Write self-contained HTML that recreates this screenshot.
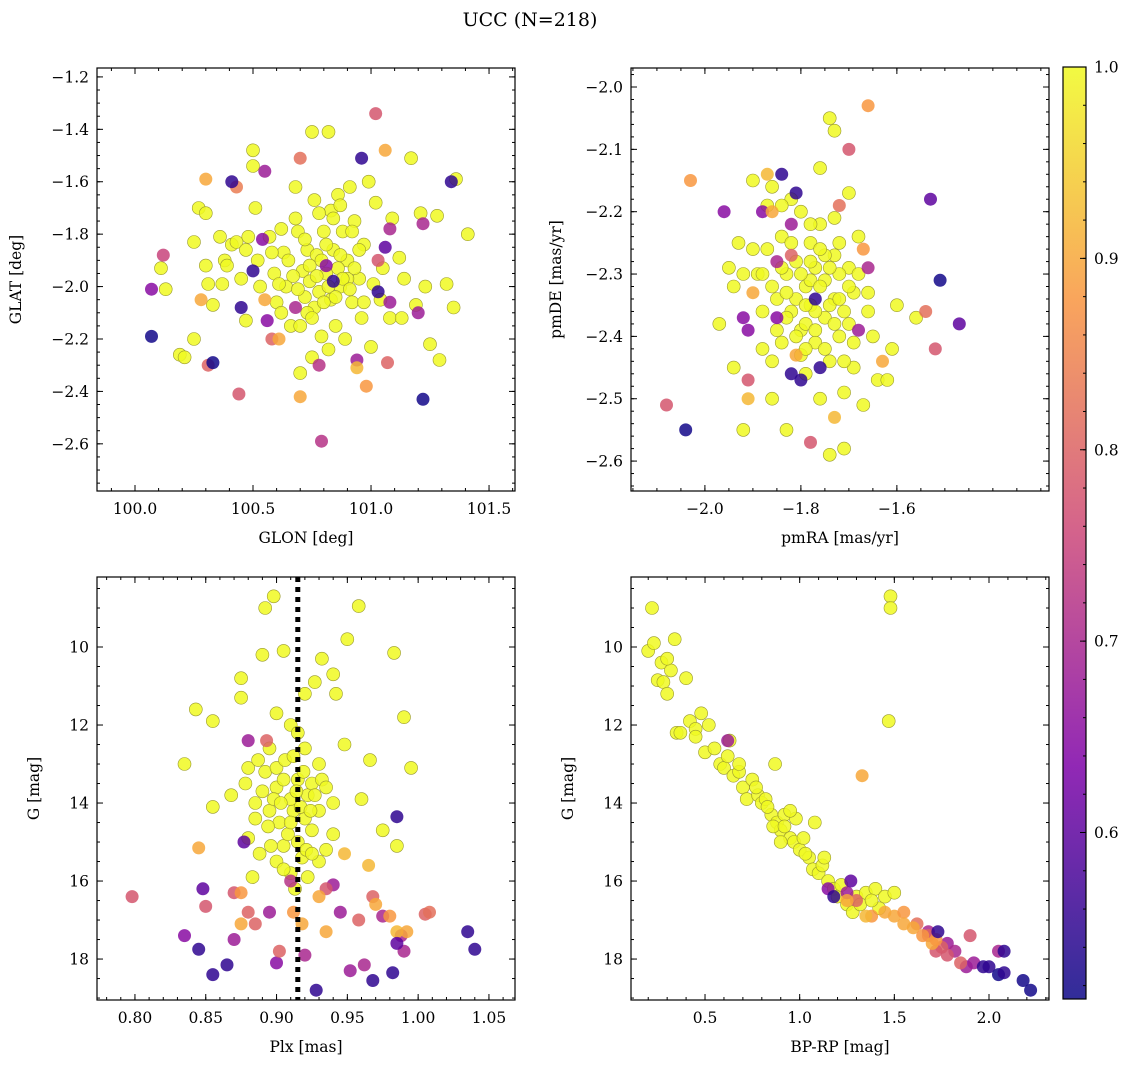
<!DOCTYPE html>
<html><head><meta charset="utf-8"><style>
html,body{margin:0;padding:0;background:#fff}
svg{display:block}
text{font-family:"DejaVu Serif","Liberation Serif",serif;fill:#000}
</style></head><body>
<svg id="fig" width="1136" height="1067" viewBox="0 0 1136 1067" xmlns="http://www.w3.org/2000/svg">
<defs><linearGradient id="plasma" x1="0" y1="1" x2="0" y2="0">
<stop offset="0" stop-color="#0d0887"/><stop offset="0.25" stop-color="#7e03a8"/><stop offset="0.5" stop-color="#cc4778"/><stop offset="0.75" stop-color="#f89540"/><stop offset="1" stop-color="#f0f921"/></linearGradient></defs>
<text x="530" y="26" font-size="19" text-anchor="middle">UCC (N=218)</text>
</svg>
<script>
// ---- data (x, y, membership probability) ----
const p1Dark=[[100.07,-2.19,0.52],[100.33,-2.29,0.52],[100.41,-1.60,0.55],[100.50,-1.94,0.55],[100.45,-2.08,0.55],[101.22,-2.43,0.52],[101.34,-1.60,0.55],[100.96,-1.51,0.55],[101.03,-2.02,0.55],[100.84,-1.98,0.55],[101.06,-1.85,0.6]];
const p1Mid=[[100.07,-2.01,0.65],[100.55,-1.56,0.68],[100.56,-2.13,0.65],[100.54,-1.82,0.65],[100.81,-1.92,0.65],[101.08,-2.06,0.68],[101.2,-2.1,0.68],[100.94,-2.28,0.68],[101.22,-1.76,0.7],[101.08,-1.78,0.7],[100.78,-2.3,0.72],[100.79,-2.59,0.72],[100.68,-2.08,0.7],
[101.02,-1.34,0.78],[100.12,-1.88,0.75],[100.44,-2.41,0.78],[100.31,-2.30,0.8],[101.07,-2.29,0.8],[101.03,-1.9,0.78],[100.70,-1.51,0.82],[100.58,-2.20,0.8],[100.43,-1.62,0.84],[100.98,-2.38,0.88],
[100.30,-1.59,0.9],[100.70,-2.42,0.9],[100.94,-2.31,0.92],[101.06,-1.48,0.9],[100.55,-2.05,0.9],[100.28,-2.05,0.9],[100.61,-2.2,0.9]];
const p1Core=[[100.11,-1.93],[100.13,-2.01],[100.19,-2.26],[100.21,-2.27],[100.25,-1.83],[100.25,-2.2],[100.27,-1.7],[100.30,-1.72],[100.30,-1.92],[100.31,-1.99],[100.33,-2.07],[100.36,-1.81],[100.37,-1.99],[100.38,-1.9],[100.39,-1.92],[100.41,-1.84],[100.43,-1.83],[100.45,-1.97],[100.47,-2.13],[100.48,-1.81],[100.50,-1.48],[100.50,-1.54],[100.51,-1.7],[100.52,-1.9],[100.53,-2.0],[100.57,-1.81],[100.59,-1.95],[100.60,-2.06],[100.62,-2.1],[100.63,-1.87],[100.65,-1.9],[100.66,-2.15],[100.68,-1.62],[100.68,-1.74],[100.69,-1.79],[100.70,-2.33],[100.71,-1.94],[100.72,-2.04],[100.73,-1.86],[100.74,-1.98],[100.75,-1.41],[100.75,-2.27],[100.76,-1.67],[100.77,-1.88],[100.78,-2.02],[100.79,-2.19],[100.80,-1.79],[100.81,-1.95],[100.82,-1.41],[100.83,-1.71],[100.83,-2.05],[100.84,-1.86],[100.85,-2.15],[100.86,-1.65],[100.87,-2.0],[100.88,-1.79],[100.89,-2.2],[100.90,-1.9],[100.91,-1.62],[100.92,-2.06],[100.93,-1.75],[100.95,-1.97],[100.96,-2.12],[100.97,-1.84],[100.99,-1.6],[101.0,-2.23],[101.02,-1.68],[101.04,-2.05],[101.05,-1.93],[101.08,-2.12],[101.09,-1.74],[101.12,-1.89],[101.14,-1.97],[101.17,-1.51],[101.19,-2.07],[101.21,-1.72],[101.23,-2.0],[101.25,-2.22],[101.28,-1.73],[101.29,-2.28],[101.32,-1.99],[101.35,-2.08],[101.36,-1.59],[101.41,-1.80],[101.13,-2.12],[100.64,-2.0],[100.76,-2.08],[100.86,-1.93],[100.7,-2.15],[100.9,-1.97],
[100.72,-1.82],[100.74,-1.92],[100.77,-1.96],[100.79,-1.9],[100.8,-2.06],[100.82,-2.0],[100.85,-2.04],[100.87,-1.88],[100.88,-1.97],[100.91,-2.01],[100.93,-1.93],[100.67,-1.96],[100.69,-2.01],[100.73,-2.1],[100.81,-1.84],[100.84,-1.74],[100.87,-1.69],[100.78,-1.72],[100.62,-1.78],[100.95,-1.86],[100.58,-1.87],[100.97,-2.06],[100.75,-2.12],[100.92,-1.79],[100.61,-1.99],[101.01,-1.99],[100.47,-1.86],[100.82,-2.24]];

const p2Dark=[[-2.04,-2.55,0.52],[-1.51,-2.31,0.52],[-1.47,-2.38,0.6],[-1.53,-2.18,0.6],[-1.84,-2.14,0.55],[-1.81,-2.17,0.55],[-1.80,-2.47,0.55],[-1.77,-2.34,0.55],[-1.76,-2.45,0.55],[-1.82,-2.46,0.55]];
const p2Mid=[[-1.96,-2.20,0.65],[-1.92,-2.37,0.65],[-1.91,-2.39,0.65],[-1.88,-2.2,0.65],[-1.85,-2.37,0.65],[-1.82,-2.22,0.68],[-1.68,-2.39,0.68],[-1.66,-2.29,0.7],[-1.85,-2.28,0.7],
[-2.08,-2.51,0.78],[-1.78,-2.57,0.78],[-1.91,-2.47,0.78],[-1.82,-2.27,0.8],[-1.70,-2.1,0.78],[-1.52,-2.42,0.78],[-1.54,-2.36,0.82],[-1.72,-2.19,0.82],
[-2.03,-2.15,0.88],[-1.90,-2.33,0.9],[-1.91,-2.50,0.92],[-1.87,-2.14,0.92],[-1.66,-2.03,0.88],[-1.67,-2.26,0.88],[-1.73,-2.53,0.92],[-1.63,-2.44,0.9],[-1.86,-2.2,0.9],[-1.81,-2.43,0.9]];
const p2Core=[[-1.97,-2.38],[-1.94,-2.45],[-1.93,-2.25],[-1.92,-2.55],[-1.90,-2.15],[-1.89,-2.30],[-1.88,-2.42],[-1.87,-2.26],[-1.86,-2.50],[-1.86,-2.16],[-1.85,-2.34],[-1.84,-2.24],[-1.84,-2.41],[-1.83,-2.3],[-1.83,-2.55],[-1.82,-2.36],[-1.81,-2.28],[-1.80,-2.39],[-1.80,-2.20],[-1.79,-2.32],[-1.79,-2.46],[-1.78,-2.25],[-1.78,-2.35],[-1.77,-2.29],[-1.77,-2.41],[-1.76,-2.22],[-1.76,-2.13],[-1.76,-2.50],[-1.75,-2.31],[-1.75,-2.37],[-1.74,-2.05],[-1.74,-2.44],[-1.74,-2.59],[-1.73,-2.07],[-1.73,-2.27],[-1.73,-2.34],[-1.72,-2.40],[-1.72,-2.25],[-1.71,-2.49],[-1.71,-2.36],[-1.70,-2.29],[-1.70,-2.17],[-1.69,-2.45],[-1.69,-2.33],[-1.68,-2.24],[-1.67,-2.51],[-1.66,-2.36],[-1.65,-2.40],[-1.64,-2.47],[-1.62,-2.47],[-1.61,-2.42],[-1.60,-2.35],[-1.56,-2.37],[-1.81,-2.34],[-1.79,-2.38],[-1.78,-2.31],[-1.83,-2.33],[-1.85,-2.39],[-1.88,-2.30],[-1.95,-2.29],[-1.82,-2.18],[-1.75,-2.27],[-1.72,-2.30],[-1.70,-2.38],[-1.68,-2.30],[-1.77,-2.36],[-1.80,-2.43],[-1.78,-2.22],[-1.86,-2.32],[-1.87,-2.19],[-1.92,-2.30],[-1.94,-2.32],[-1.71,-2.58],
[-1.76,-2.32],[-1.74,-2.35],[-1.77,-2.39],[-1.79,-2.35],[-1.73,-2.38],[-1.75,-2.42],[-1.78,-2.28],[-1.74,-2.29],[-1.80,-2.30],[-1.72,-2.34],[-1.83,-2.37],[-1.81,-2.40],[-1.76,-2.26],[-1.70,-2.32],[-1.69,-2.41],[-1.84,-2.29],[-1.88,-2.36],[-1.86,-2.44],[-1.82,-2.25],[-1.79,-2.42],[-1.66,-2.33],[-1.73,-2.21],[-1.84,-2.19],[-1.90,-2.26],[-1.71,-2.44]];

const p3Dark=[[0.845,17.75,0.55],[0.855,18.4,0.55],[0.865,18.15,0.55],[0.928,18.8,0.55],[0.968,18.55,0.55],[0.982,18.35,0.55],[0.985,14.35,0.55],[1.035,17.3,0.55],[1.04,17.75,0.55],[0.848,16.2,0.6],[0.877,15.0,0.6],[0.985,17.6,0.6]];
const p3Mid=[[0.835,17.4,0.65],[0.87,17.5,0.68],[0.88,12.4,0.68],[0.895,16.8,0.68],[0.90,18.1,0.65],[0.94,16.1,0.68],[0.945,16.8,0.68],[0.952,18.3,0.68],[0.962,18.15,0.7],[0.975,16.9,0.7],[0.988,17.4,0.7],[0.99,17.8,0.7],[0.92,17.9,0.7],[0.91,16.0,0.72],
[0.798,16.4,0.78],[0.85,16.65,0.78],[0.87,16.3,0.78],[0.88,16.8,0.8],[0.885,17.1,0.8],[0.893,12.4,0.8],[0.902,17.8,0.8],[0.935,16.2,0.78],[0.958,17.0,0.8],[0.968,16.4,0.8],[1.005,16.85,0.8],[1.008,16.8,0.82],
[0.845,15.15,0.9],[0.875,16.3,0.88],[0.875,17.1,0.9],[0.912,16.8,0.88],[0.918,17.1,0.9],[0.935,17.3,0.9],[0.948,15.3,0.92],[0.965,15.6,0.92],[0.97,16.6,0.9],[0.985,17.3,0.92],[0.992,17.3,0.9],[0.98,16.9,0.88],[0.93,16.4,0.9]];
const p3Core=[[0.835,13.0],[0.843,11.6],[0.855,11.9],[0.855,14.1],[0.868,13.8],[0.875,10.8],[0.875,11.3],[0.88,13.1],[0.885,14.0],[0.888,15.3],[0.89,10.2],[0.892,9.0],[0.895,12.6],[0.898,8.7],[0.9,11.7],[0.9,13.6],[0.902,14.5],[0.905,10.1],[0.905,15.1],[0.91,12.0],[0.912,14.2],[0.915,13.4],[0.918,15.4],[0.92,11.2],[0.92,12.6],[0.922,13.8],[0.925,14.7],[0.927,10.9],[0.93,13.0],[0.932,10.3],[0.935,15.2],[0.94,14.0],[0.942,11.2],[0.948,12.5],[0.95,9.8],[0.958,8.95],[0.96,13.9],[0.966,12.9],[0.975,14.7],[0.983,10.15],[0.985,15.1],[0.99,11.8],[0.995,13.1],[0.892,13.2],[0.905,13.4],[0.908,14.8],[0.91,13.9],[0.915,15.0],[0.92,14.4],[0.925,13.5],[0.93,14.2],[0.895,14.2],[0.9,15.5],[0.88,14.9],[0.878,13.5],[0.915,12.2],[0.922,15.9],[0.94,10.7],[0.93,15.5],[0.91,15.8],[0.898,13.9],[0.913,16.2],[0.883,15.9],[0.932,13.4],
[0.89,13.7],[0.894,14.6],[0.9,13.1],[0.903,14.0],[0.906,12.9],[0.91,14.5],[0.914,13.7],[0.917,14.1],[0.919,13.2],[0.921,15.2],[0.924,14.2],[0.927,13.8],[0.905,15.7],[0.896,15.1],[0.885,14.4],[0.925,15.3],[0.935,13.6],[0.912,12.8],[0.887,12.9],[0.94,14.8]];
const plxMedian=[0.915];

const p4Dark=[[1.18,16.4,0.55],[1.73,17.3,0.55],[1.97,18.2,0.55],[2.0,18.2,0.55],[2.05,18.4,0.52],[2.08,17.8,0.55],[2.08,18.35,0.55],[2.18,18.55,0.52],[2.22,18.8,0.52],[1.27,16.0,0.6]];
const p4Mid=[[0.62,12.4,0.68],[1.15,16.2,0.65],[1.25,16.3,0.68],[1.78,17.6,0.68],[1.82,17.8,0.7],[1.88,18.2,0.68],[2.05,17.8,0.7],[1.68,17.3,0.7],[1.92,18.1,0.68],
[1.68,17.4,0.8],[1.75,17.7,0.8],[1.78,17.9,0.78],[1.9,17.4,0.78],[1.85,18.1,0.8],[1.62,17.1,0.82],[1.3,16.5,0.8],[1.72,17.8,0.78],
[1.33,13.3,0.9],[1.45,16.8,0.9],[1.5,16.9,0.9],[1.55,16.8,0.88],[1.6,17.2,0.9],[1.65,17.4,0.88],[1.7,17.6,0.9],[1.72,17.5,0.88],[1.55,17.1,0.9],[1.38,16.9,0.88],[1.25,16.5,0.9],[1.35,16.9,0.92]];
const p4Core=[[0.22,9.0],[0.2,10.1],[0.23,9.9],[0.25,10.85],[0.27,10.4],[0.28,10.9],[0.3,11.2],[0.32,10.6],[0.34,9.8],[0.35,12.2],[0.37,12.2],[0.4,10.8],[0.42,11.9],[0.45,12.1],[0.48,11.7],[0.5,12.7],[0.52,12.0],[0.55,12.6],[0.58,13.0],[0.6,13.1],[0.63,12.4],[0.65,13.3],[0.68,13.2],[0.7,13.6],[0.72,13.9],[0.75,13.4],[0.78,13.8],[0.8,14.0],[0.82,13.9],[0.85,14.3],[0.87,13.0],[0.88,14.5],[0.9,14.7],[0.92,14.3],[0.95,14.9],[0.97,15.0],[0.98,14.4],[1.0,15.2],[1.02,14.9],[1.05,15.4],[1.07,15.7],[1.1,15.8],[1.12,15.6],[1.15,16.0],[1.18,16.2],[1.2,16.4],[1.22,16.1],[1.25,16.6],[1.28,16.8],[1.3,16.4],[1.32,16.6],[1.35,16.3],[1.4,16.2],[1.42,16.7],[1.45,16.4],[1.5,16.3],[1.48,8.7],[1.48,9.0],[1.47,11.9],[0.95,14.2],[0.9,15.0],[1.03,15.3],[0.83,14.1],[0.77,13.6],[0.62,12.8],[1.08,14.5],[0.45,12.3],[0.3,10.3],[1.13,15.4],[1.38,16.5],[0.68,13.0],[0.86,14.6],[0.92,14.6]];

const p1XTicks=[100.0,100.5,101.0,101.5], p1YTicks=[-1.2,-1.4,-1.6,-1.8,-2.0,-2.2,-2.4,-2.6];
const p2XTicks=[-2.0,-1.8,-1.6], p2YTicks=[-2.0,-2.1,-2.2,-2.3,-2.4,-2.5,-2.6];
const p3XTicks=[0.80,0.85,0.90,0.95,1.00,1.05], gTicks=[10,12,14,16,18];
const p4XTicks=[0.5,1.0,1.5,2.0];
const cbTicks=[0.6,0.7,0.8,0.9,1.0];

const NS='http://www.w3.org/2000/svg', svg=document.getElementById('fig');
function mk(tag,attrs,parent){const e=document.createElementNS(NS,tag);for(const k in attrs)e.setAttribute(k,attrs[k]);(parent||svg).appendChild(e);return e;}
const stops=[[0,[13,8,135]],[0.25,[126,3,168]],[0.5,[204,71,120]],[0.75,[248,149,64]],[1,[240,249,33]]];
const vmin=0.513,vmax=1.0;
function cmap(v){let t=Math.max(0,Math.min(1,(v-vmin)/(vmax-vmin)));for(let i=0;i<4;i++){const a=stops[i],b=stops[i+1];if(t<=b[0]){const f=(t-a[0])/(b[0]-a[0]);return 'rgb('+a[1].map((c,j)=>Math.round(c+(b[1][j]-c)*f)).join(',')+')';}}return 'rgb(240,249,33)';}
function fmt(v,d){return (v<0?'\u2212':'')+Math.abs(v).toFixed(d);}

function panel(o){
  const g=mk('g',{});
  
  
  const sx=v=>o.x0+(v-o.xmin)/(o.xmax-o.xmin)*(o.x1-o.x0);
  const sy=o.inv?(v=>o.y0+(v-o.ymin)/(o.ymax-o.ymin)*(o.y1-o.y0)):(v=>o.y1-(v-o.ymin)/(o.ymax-o.ymin)*(o.y1-o.y0));
  const cp=mk('clipPath',{id:'c'+o.name},g);mk('rect',{x:o.x0,y:o.y0,width:o.x1-o.x0,height:o.y1-o.y0},cp);
  const pts=mk('g',{'clip-path':'url(#c'+o.name+')'},g);
  const order=[].concat(o.core.map(d=>[d[0],d[1],1.0]),o.mid,o.dark);
  order.forEach(d=>{
    const c=mk('circle',{cx:sx(d[0]).toFixed(1),cy:sy(d[1]).toFixed(1),r:6.5,fill:cmap(d[2]),'fill-opacity':0.85,stroke:d[2]>0.95?'#9a9a30':'none','stroke-width':0.6},pts);
    
    
  });
  if(o.vline){const l=mk('line',{x1:sx(o.vline),x2:sx(o.vline),y1:o.y0,y2:o.y1,stroke:'#000','stroke-width':5,'stroke-dasharray':'5,5'},g);
    
    }
  const tk=(x1,y1,x2,y2)=>mk('line',{x1,y1,x2,y2,stroke:'#000','stroke-width':1},g);
  for(let v=Math.ceil(o.xmin/o.xminor-1e-9)*o.xminor;v<=o.xmax;v+=o.xminor){const X=sx(v);tk(X,o.y1,X,o.y1-3);tk(X,o.y0,X,o.y0+3);}
  for(let v=Math.ceil(o.ymin/o.yminor-1e-9)*o.yminor;v<=o.ymax;v+=o.yminor){const Y=sy(v);tk(o.x0,Y,o.x0+3,Y);tk(o.x1,Y,o.x1-3,Y);}
  o.xt.forEach(v=>{const X=sx(v);tk(X,o.y1,X,o.y1-6);tk(X,o.y0,X,o.y0+6);
    const t=mk('text',{x:X,y:o.y1+23,'font-size':15.5,'text-anchor':'middle'},g);t.textContent=fmt(v,o.xd);
    
    });
  o.yt.forEach(v=>{const Y=sy(v);tk(o.x0,Y,o.x0+6,Y);tk(o.x1,Y,o.x1-6,Y);
    const t=mk('text',{x:o.x0-8,y:Y+5.5,'font-size':15.5,'text-anchor':'end'},g);t.textContent=fmt(v,o.yd);
    
    });
  const fr=mk('rect',{x:o.x0,y:o.y0,width:o.x1-o.x0,height:o.y1-o.y0,fill:'none',stroke:'#000','stroke-width':1.2},g);
  
  
  const xl=mk('text',{x:(o.x0+o.x1)/2,y:o.y1+52,'font-size':15.5,'text-anchor':'middle'},g);xl.textContent=o.xlab;
  
  
  const yx=o.x0-o.ylo, yy=(o.y0+o.y1)/2;
  const yl=mk('text',{x:yx,y:yy,'font-size':15.5,'text-anchor':'middle',transform:'rotate(-90 '+yx+' '+yy+')'},g);yl.textContent=o.ylab;
  
  
}
panel({name:'panel-glon-glat',x0:97,x1:515,y0:68,y1:491,xmin:99.839,xmax:101.610,ymin:-2.780,ymax:-1.166,xminor:0.1,yminor:0.05,xt:p1XTicks,yt:p1YTicks,xd:1,yd:1,dark:p1Dark,mid:p1Mid,core:p1Core,xlab:'GLON [deg]',ylab:'GLAT [deg]',ylo:76});
panel({name:'panel-pm',x0:631,x1:1049,y0:68,y1:491,xmin:-2.154,xmax:-1.283,ymin:-2.648,ymax:-1.9695,xminor:0.05,yminor:0.02,xt:p2XTicks,yt:p2YTicks,xd:1,yd:1,dark:p2Dark,mid:p2Mid,core:p2Core,xlab:'pmRA [mas/yr]',ylab:'pmDE [mas/yr]',ylo:70});
panel({name:'panel-plx-g',x0:97,x1:515,y0:577,y1:1000,xmin:0.7732,xmax:1.0684,ymin:8.205,ymax:19.05,inv:true,xminor:0.01,yminor:0.5,xt:p3XTicks,yt:gTicks,xd:2,yd:0,dark:p3Dark,mid:p3Mid,core:p3Core,vline:plxMedian[0],xlab:'Plx [mas]',ylab:'G [mag]',ylo:58});
panel({name:'panel-cmd',x0:631,x1:1049,y0:577,y1:1000,xmin:0.109,xmax:2.317,ymin:8.205,ymax:19.05,inv:true,xminor:0.1,yminor:0.5,xt:p4XTicks,yt:gTicks,xd:1,yd:0,dark:p4Dark,mid:p4Mid,core:p4Core,xlab:'BP-RP [mag]',ylab:'G [mag]',ylo:58});

const cb=mk('g',{});


const cy0=67,cy1=999,cx0=1063,cx1=1086;
const cbY=v=>cy1-(v-vmin)/(vmax-vmin)*(cy1-cy0);
mk('rect',{x:cx0,y:cy0,width:cx1-cx0,height:cy1-cy0,fill:'url(#plasma)','fill-opacity':0.85,stroke:'#000','stroke-width':1.2},cb);
for(let v=0.52;v<=1.0001;v+=0.02){const Y=cbY(v);mk('line',{x1:cx1,x2:cx1-3,y1:Y,y2:Y,stroke:'#000'},cb);}
cbTicks.forEach(v=>{const Y=cbY(v);mk('line',{x1:cx1,x2:cx1-6,y1:Y,y2:Y,stroke:'#000'},cb);
  const t=mk('text',{x:cx1+8,y:Y+5.5,'font-size':15.5},cb);t.textContent=v.toFixed(1);
  
  });
</script>
</body></html>
